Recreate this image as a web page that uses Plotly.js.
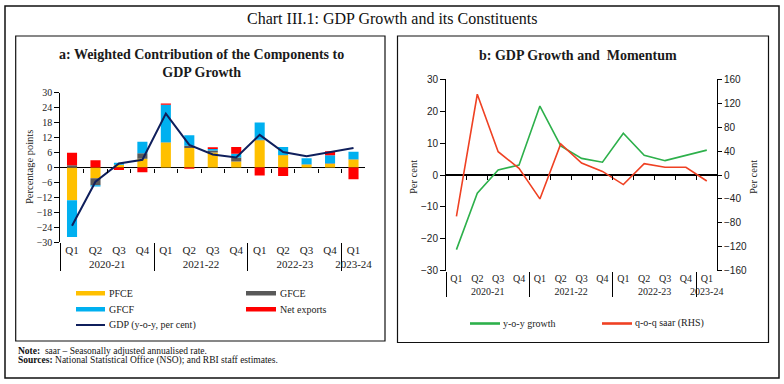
<!DOCTYPE html>
<html>
<head>
<meta charset="utf-8">
<script src="https://cdn.plot.ly/plotly-3.0.1.min.js"></script>
<style>
html,body{margin:0;padding:0;background:#fff;}
#chart{width:784px;height:384px;}
</style>
</head>
<body>
<div id="chart"></div>
<script>
// ---------- DATA ----------
const years = ['2020-21','2020-21','2020-21','2020-21','2021-22','2021-22','2021-22','2021-22','2022-23','2022-23','2022-23','2022-23','2023-24'];
const quarters = ['Q1','Q2','Q3','Q4','Q1','Q2','Q3','Q4','Q1','Q2','Q3','Q4','Q1'];
// Panel a: weighted contributions (percentage points)
const pfce = [-13.1, -4.3, 1.0, 3.5, 10.0, 7.8, 6.0, 2.4, 10.9, 4.9, 1.2, 1.5, 3.2];
const gfce = [0.9, -2.8, 0.1, 2.2, 0.1, 0.9, 0.8, 1.6, 0.2, 0.1, 0.1, 0.2, 0.1];
const gfcf = [-14.8, -0.5, 0.8, 4.6, 15.1, 4.2, 0.6, 1.5, 6.9, 3.2, 2.4, 3.2, 3.0];
const netExports = [5.0, 2.9, -1.0, -1.9, 0.5, -0.5, 0.7, 2.7, -3.2, -3.4, 0.0, 1.6, -4.7];
// GDP growth y-o-y (per cent)
const gdpYoy = [-23.4, -5.7, 1.6, 3.1, 21.6, 9.1, 5.2, 4.0, 13.1, 6.2, 4.5, 6.1, 7.8];
// Panel b: q-o-q saar (RHS, per cent)
const qoqSaar = [-69, 135, 39, 11, -40, 52, 20, 6, -16, 19, 13, 13, -10];

const leftTicks = [-30,-24,-18,-12,-6,0,6,12,18,24,30];
const bLeftTicks = [-30,-20,-10,0,10,20,30];
const bRightTicks = [-160,-120,-80,-40,0,40,80,120,160];

// ---------- helpers ----------
const W = 784, H = 384;
const px = x => x / W;
const py = y => 1 - y / H;
const xcat = [years, quarters];
const boundaries = quarters.slice(0, -1).map((_, i) => i + 0.5);
const xRange = [-0.5, quarters.length - 0.51];

const serif = 'Liberation Serif, DejaVu Serif, serif';
const sans = 'Liberation Sans, Arial, sans-serif';

// panel geometry (px)
const A = {x0: 60.3, x1: 365, yTop: 92.7, yBot: 242.3};
const B = {x0: 446, x1: 717, yTop: 79.3, yBot: 270.7};

const colors = {pfce:'#FFC000', gfce:'#595959', gfcf:'#00B0F0', nx:'#FF0000', gdp:'#0F1F5C', yoy:'#2DB04B', qoq:'#EF4123'};

const traces = [
  {type:'bar', name:'PFCE', x:xcat, y:pfce, marker:{color:colors.pfce}, xaxis:'x', yaxis:'y', width:0.43},
  {type:'bar', name:'GFCE', x:xcat, y:gfce, marker:{color:colors.gfce}, xaxis:'x', yaxis:'y', width:0.43},
  {type:'bar', name:'GFCF', x:xcat, y:gfcf, marker:{color:colors.gfcf}, xaxis:'x', yaxis:'y', width:0.43},
  {type:'bar', name:'Net exports', x:xcat, y:netExports, marker:{color:colors.nx}, xaxis:'x', yaxis:'y', width:0.43},
  {type:'scatter', mode:'lines', name:'GDP (y-o-y, per cent)', x:xcat, y:gdpYoy, line:{color:colors.gdp, width:2}, xaxis:'x', yaxis:'y'},
  {type:'scatter', x:[], y:[], xaxis:'x2', yaxis:'y', showlegend:false, hoverinfo:'skip'},
  {type:'scatter', mode:'lines', name:'y-o-y growth', x:xcat, y:gdpYoy, line:{color:colors.yoy, width:1.6}, xaxis:'x3', yaxis:'y3'},
  {type:'scatter', mode:'lines', name:'q-o-q saar (RHS)', x:xcat, y:qoqSaar, line:{color:colors.qoq, width:1.6}, xaxis:'x3', yaxis:'y4'},
  {type:'scatter', x:[], y:[], xaxis:'x4', yaxis:'y3', showlegend:false, hoverinfo:'skip'}
];

const zeroA = py((A.yTop + A.yBot) / 2);
const zeroB = py((B.yTop + B.yBot) / 2);

function txt(text, x, y, opts) {
  const o = Object.assign({size:10, xanchor:'center', angle:0, family:serif, color:'#222'}, opts || {});
  return {text:text, xref:'paper', yref:'paper', x:px(x), y:py(y), xanchor:o.xanchor, yanchor:'middle',
    textangle:o.angle, showarrow:false, font:{family:o.family, size:o.size, color:o.color}};
}

const layout = {
  width: W, height: H,
  margin: {l:0, r:0, t:0, b:0},
  paper_bgcolor:'#fff', plot_bgcolor:'rgba(0,0,0,0)',
  showlegend:false,
  barmode:'relative',
  font:{family:serif, size:10, color:'#222'},
  xaxis:{type:'multicategory', domain:[px(A.x0), px(A.x1)], anchor:'y', range:xRange,
    showline:false, ticks:'', showgrid:false, zeroline:false,
    showdividers:true, dividercolor:'#000', dividerwidth:1, tickangle:0,
    tickfont:{family:serif, size:11, color:'#222'}, automargin:false},
  xaxis2:{overlaying:'x', anchor:'free', position:zeroA, range:xRange, tickvals:boundaries,
    ticks:'outside', ticklen:4, tickcolor:'#000', showticklabels:false, showgrid:false, zeroline:false, showline:false},
  yaxis:{domain:[py(A.yBot), py(A.yTop)], anchor:'x', range:[-30,30], tickvals:leftTicks,
    showline:true, linecolor:'#000', linewidth:1, ticks:'outside', ticklen:5, tickcolor:'#000',
    showgrid:false, zeroline:true, zerolinecolor:'#000', zerolinewidth:1.2,
    tickfont:{family:serif, size:10, color:'#222'}, automargin:false},
  xaxis3:{type:'multicategory', domain:[px(B.x0), px(B.x1)], anchor:'y3', range:xRange,
    showline:false, ticks:'', showgrid:false, zeroline:false,
    showdividers:true, dividercolor:'#000', dividerwidth:1, tickangle:0,
    tickfont:{family:serif, size:10, color:'#222'}, automargin:false},
  xaxis4:{overlaying:'x3', anchor:'free', position:zeroB, range:xRange, tickvals:boundaries,
    ticks:'outside', ticklen:4, tickcolor:'#000', showticklabels:false, showgrid:false, zeroline:false, showline:false},
  yaxis3:{domain:[py(B.yBot), py(B.yTop)], anchor:'x3', range:[-30,30], tickvals:bLeftTicks,
    showline:true, linecolor:'#000', linewidth:1, ticks:'outside', ticklen:5, tickcolor:'#000',
    showgrid:false, zeroline:true, zerolinecolor:'#000', zerolinewidth:1.2,
    tickfont:{family:sans, size:10, color:'#222'}, automargin:false},
  yaxis4:{overlaying:'y3', side:'right', anchor:'x3', range:[-160,160], tickvals:bRightTicks,
    showline:true, linecolor:'#000', linewidth:1, ticks:'outside', ticklen:4, tickcolor:'#000',
    showgrid:false, zeroline:false,
    tickfont:{family:sans, size:10, color:'#222'}, automargin:false},
  shapes:[
    {type:'rect', xref:'paper', yref:'paper', x0:px(5), x1:px(779), y0:py(6), y1:py(378), line:{color:'#111', width:1.5}},
    {type:'rect', xref:'paper', yref:'paper', x0:px(15.7), x1:px(385), y0:py(36), y1:py(341), line:{color:'#111', width:1.2}},
    {type:'rect', xref:'paper', yref:'paper', x0:px(397.5), x1:px(768.5), y0:py(36), y1:py(342.5), line:{color:'#111', width:1.2}},
    // legend swatches panel a
    {type:'rect', xref:'paper', yref:'paper', x0:px(76), x1:px(105), y0:py(291), y1:py(295.5), fillcolor:colors.pfce, line:{width:0}},
    {type:'rect', xref:'paper', yref:'paper', x0:px(246), x1:px(276), y0:py(291), y1:py(295.5), fillcolor:colors.gfce, line:{width:0}},
    {type:'rect', xref:'paper', yref:'paper', x0:px(76), x1:px(105), y0:py(307), y1:py(311.5), fillcolor:colors.gfcf, line:{width:0}},
    {type:'rect', xref:'paper', yref:'paper', x0:px(246), x1:px(276), y0:py(307), y1:py(311.5), fillcolor:colors.nx, line:{width:0}},
    {type:'line', xref:'paper', yref:'paper', x0:px(76), x1:px(105), y0:py(325), y1:py(325), line:{color:colors.gdp, width:2}},
    // legend swatches panel b
    {type:'line', xref:'paper', yref:'paper', x0:px(470), x1:px(500), y0:py(323.5), y1:py(323.5), line:{color:colors.yoy, width:2.6}},
    {type:'line', xref:'paper', yref:'paper', x0:px(602), x1:px(632), y0:py(323.5), y1:py(323.5), line:{color:colors.qoq, width:2.6}}
  ],
  annotations:[
    txt('Chart III.1: GDP Growth and its Constituents', 392, 19, {size:16, color:'#111'}),
    txt('<b>a: Weighted Contribution of the Components to<br>GDP Growth</b>', 201, 63.5, {size:14, color:'#1a1a1a'}),
    txt('<b>b: GDP Growth and  Momentum</b>', 578, 55.5, {size:14, color:'#1a1a1a'}),
    txt('Percentage points', 30, 167, {size:10.5, angle:-90}),
    txt('Per cent', 413, 177, {size:10.5, angle:-90}),
    txt('Per cent', 753, 177, {size:10.5, angle:-90}),
    txt('PFCE', 107, 293, {xanchor:'left'}),
    txt('GFCE', 278, 293, {xanchor:'left'}),
    txt('GFCF', 107, 309, {xanchor:'left'}),
    txt('Net exports', 278, 309, {xanchor:'left'}),
    txt('GDP (y-o-y, per cent)', 107, 325, {xanchor:'left'}),
    txt('y-o-y growth', 501, 323, {xanchor:'left'}),
    txt('q-o-q saar (RHS)', 633, 323, {xanchor:'left'}),
    txt('<b>Note:</b>  saar – Seasonally adjusted annualised rate.', 15.5, 351, {xanchor:'left', size:9.5, color:'#111'}),
    txt('<b>Sources:</b> National Statistical Office (NSO); and RBI staff estimates.', 15.5, 360, {xanchor:'left', size:9.5, color:'#111'})
  ]
};

Plotly.newPlot('chart', traces, layout, {displayModeBar:false, staticPlot:true});
</script>
</body>
</html>
